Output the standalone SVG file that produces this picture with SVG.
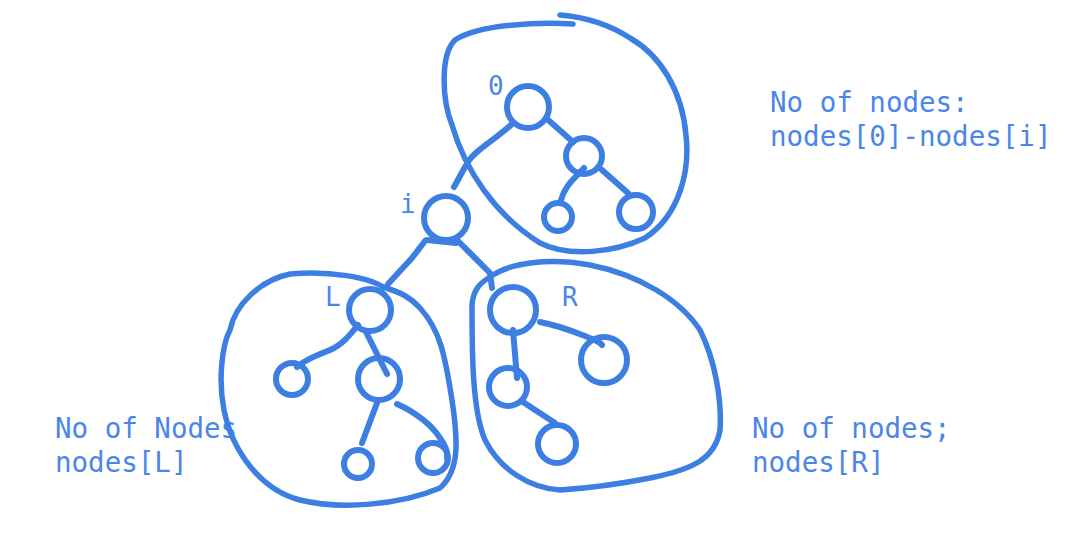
<svg xmlns="http://www.w3.org/2000/svg" width="1076" height="541" viewBox="0 0 1076 541">
<style>
.t{font-family:"DejaVu Sans Mono","Liberation Mono",monospace;font-size:27.5px;fill:#4a86e8}
.s{font-size:26px}
.n{fill:none;stroke:#3d7ee3;stroke-width:6}
.e{fill:none;stroke:#3d7ee3;stroke-width:6;stroke-linecap:round;stroke-linejoin:round}
.b{fill:none;stroke:#3d7ee3;stroke-width:5.5;stroke-linecap:round;stroke-linejoin:round}
</style>
<rect width="1076" height="541" fill="#fff"/>
<g id="labels">
<text class="t" x="770" y="112">No of nodes:</text>
<text class="t" x="770" y="146">nodes[0]-nodes[i]</text>
<text class="t" x="55" y="438">No of Nodes</text>
<text class="t" x="55" y="472">nodes[L]</text>
<text class="t" x="752" y="438">No of nodes;</text>
<text class="t" x="752" y="472">nodes[R]</text>
</g>
<g id="groups">
<path id="blob-top" class="b" d="M573,24 C540,22 480,24 455,40 C440,55 442,100 452,125 C465,170 495,215 540,243 C570,258 615,252 645,238 C680,215 690,170 686,135 C682,90 660,55 630,38 C610,25 585,17 560,15"/>
<path id="blob-left" class="b" d="M383,287 C370,278 330,270 290,274 C260,280 235,305 230,330 C222,345 218,380 224,410 C232,450 260,490 300,500 C340,510 400,505 440,488 C460,470 458,440 452,400 C445,355 440,330 420,308 C410,297 400,292 383,287 Z"/>
<path id="blob-right" class="b" d="M490,277 C510,262 550,258 590,265 C640,275 680,300 700,330 C715,360 722,400 720,430 C715,460 690,470 650,478 C615,485 590,488 560,490 C530,488 500,470 485,440 C472,410 472,350 472,305 C473,290 480,283 490,277 Z"/>
</g>
<g id="connectors">
<path class="e" d="M512,124 C495,140 475,150 468,162 C462,172 458,180 454,187"/>
<path class="e" d="M546,118 L573,142"/>
<path class="e" d="M584,168 C575,178 565,185 561,200"/>
<path class="e" d="M602,170 L628,193"/>
<path class="e" d="M427,240 L456,243"/>
<path class="e" d="M425,241 L412,258 L388,284"/>
<path class="e" d="M458,241 L490,273 L492,288"/>
<path class="e" d="M358,325 C350,335 342,345 330,350 C315,356 305,360 297,367"/>
<path class="e" d="M366,332 L387,374"/>
<path class="e" d="M377,403 L362,443"/>
<path class="e" d="M397,404 C415,412 432,425 440,438 C446,446 448,452 447,458"/>
<path class="e" d="M513,330 L517,378"/>
<path class="e" d="M540,322 C555,325 570,330 585,336 C595,340 600,342 602,345"/>
<path class="e" d="M523,402 L555,423"/>
</g>
<g id="node-0"><circle class="n" cx="528" cy="107" r="21"/><text class="t s" x="488" y="95">0</text></g>
<g id="node-0r"><circle class="n" cx="584" cy="156" r="18"/></g>
<g id="node-0rl"><circle class="n" cx="558" cy="217" r="14"/></g>
<g id="node-0rr"><circle class="n" cx="636" cy="212" r="17"/></g>
<g id="node-i"><circle class="n" cx="446" cy="218" r="22"/><text class="t s" x="400" y="213">i</text></g>
<g id="node-L"><circle class="n" cx="370" cy="310" r="21"/><text class="t s" x="325" y="306">L</text></g>
<g id="node-Ll"><circle class="n" cx="292" cy="379" r="16"/></g>
<g id="node-Lr"><circle class="n" cx="379" cy="379" r="21"/></g>
<g id="node-Lrl"><circle class="n" cx="358" cy="464" r="14"/></g>
<g id="node-Lrr"><circle class="n" cx="433" cy="458" r="15"/></g>
<g id="node-R"><circle class="n" cx="513" cy="310" r="23"/><text class="t s" x="562" y="306">R</text></g>
<g id="node-Rl"><circle class="n" cx="508" cy="387" r="19"/></g>
<g id="node-Rr"><circle class="n" cx="604" cy="360" r="23"/></g>
<g id="node-Rlr"><circle class="n" cx="557" cy="444" r="19"/></g>
</svg>
